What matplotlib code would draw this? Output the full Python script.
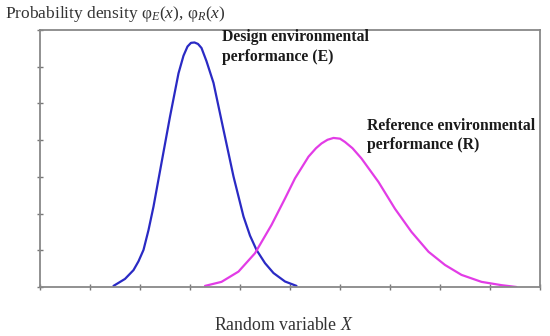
import matplotlib
matplotlib.use("Agg")
import matplotlib.pyplot as plt

plt.rcParams['font.family'] = ['Liberation Serif', 'DejaVu Serif']
plt.rcParams['mathtext.fontset'] = 'custom'
plt.rcParams['mathtext.rm'] = 'Liberation Serif'
plt.rcParams['mathtext.it'] = 'Liberation Serif:italic'

# design environmental performance (E)
design_x = [1.47, 1.70, 1.87, 1.97, 2.07, 2.17, 2.27, 2.43, 2.60, 2.77, 2.87, 2.95, 3.02, 3.09,
            3.16, 3.23, 3.33, 3.47, 3.67, 3.87, 4.07, 4.20, 4.33, 4.50, 4.67, 4.90, 5.13]
design_y = [0.03, 0.22, 0.46, 0.70, 1.01, 1.55, 2.19, 3.38, 4.64, 5.82, 6.30, 6.55, 6.65, 6.66,
            6.62, 6.51, 6.15, 5.56, 4.28, 3.01, 1.92, 1.40, 1.01, 0.65, 0.38, 0.15, 0.03]

# reference environmental performance (R)
ref_x = [3.30, 3.63, 3.97, 4.30, 4.63, 4.90, 5.10, 5.37, 5.52, 5.63, 5.75, 5.87, 6.00, 6.10,
         6.25, 6.43, 6.77, 7.10, 7.43, 7.77, 8.10, 8.43, 8.83, 9.23, 9.53]
ref_y = [0.03, 0.14, 0.42, 0.92, 1.69, 2.41, 2.96, 3.55, 3.78, 3.91, 4.01, 4.06, 4.04, 3.95,
         3.78, 3.50, 2.86, 2.13, 1.50, 0.96, 0.60, 0.33, 0.14, 0.05, 0.00]

fig = plt.figure(figsize=(5.5, 3.36), dpi=100)
ax = fig.add_axes([40/550, 1-287/336, 500/550, 257/336])

ax.plot(design_x, design_y, color='#2a2ac4', lw=1.6, solid_capstyle='round')
ax.plot(ref_x, ref_y, color='#e23ce6', lw=1.6, solid_capstyle='round')

ax.set_xlim(0, 10)
ax.set_ylim(0, 7)
ax.set_xticks(range(0, 11))
ax.set_yticks(range(0, 8))
ax.set_xticklabels([])
ax.set_yticklabels([])
ax.tick_params(direction='inout', length=5, width=1, color='#777777')
for s in ax.spines.values():
    s.set_color('#888888')
    s.set_linewidth(1.3)

ax.text(3.64, 6.53, 'Design environmental\nperformance (E)', fontsize=11.3,
        fontweight='bold', color='#1a1a1a', va='center', ha='left', linespacing=1.3)
ax.text(6.54, 4.13, 'Reference environmental\nperformance (R)', fontsize=11.3,
        fontweight='bold', color='#1a1a1a', va='center', ha='left', linespacing=1.3)

fig.text(5/550, 1-14/336, r'Probability density φ$_E$($x$), φ$_R$($x$)',
         fontsize=12.5, color='#333333', va='center', ha='left')
fig.text(284/550, 1-326/336, r'Random variable $X$', fontsize=12.8,
         color='#333333', va='center', ha='center')

fig.savefig('out.png', dpi=100)
